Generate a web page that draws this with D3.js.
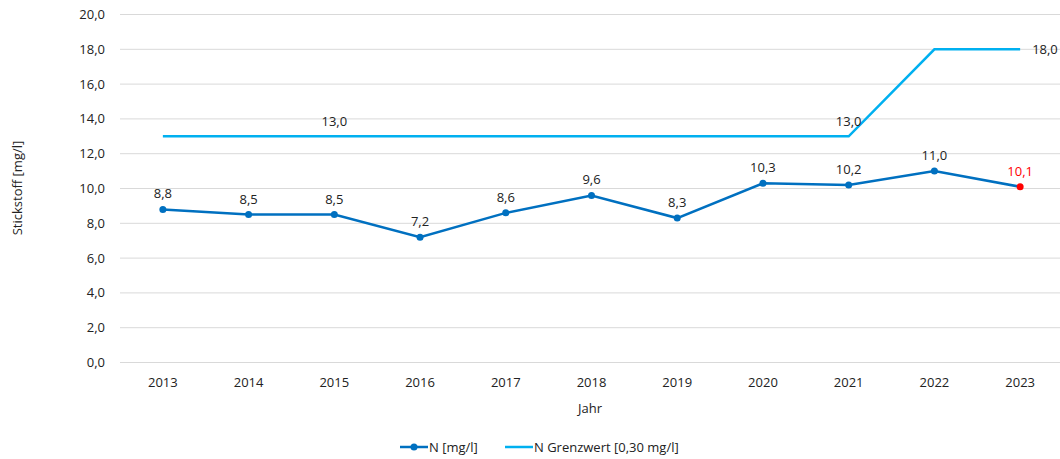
<!DOCTYPE html>
<html>
<head>
<meta charset="utf-8">
<script src="https://cdn.jsdelivr.net/npm/d3@7"></script>
<style>
  body { margin: 0; background: #fff; }
  svg text { font-family: "Open Sans", "Liberation Sans", sans-serif; fill: #222; }
</style>
</head>
<body>
<svg id="chart"></svg>
<script>
var width = 1060, height = 459;

// data
var years = ["2013","2014","2015","2016","2017","2018","2019","2020","2021","2022","2023"];
var nValues = [8.8, 8.5, 8.5, 7.2, 8.6, 9.6, 8.3, 10.3, 10.2, 11.0, 10.1];
var limitValues = [13, 13, 13, 13, 13, 13, 13, 13, 13, 18, 18];
var limitLabelYears = ["2015", "2021", "2023"];
var yTicks = [0, 2, 4, 6, 8, 10, 12, 14, 16, 18, 20];

var fmt = function(v){ return d3.format(".1f")(v).replace(".", ","); };

const svg = d3.select("svg#chart")
  .attr("width", width)
  .attr("height", height);

var x = d3.scaleBand().domain(years).range([120, 1063]);
var y = d3.scaleLinear().domain([0, 20]).range([362.5, 14.5]);
var cx = function(d){ return x(d) + x.bandwidth() / 2; };

// grid
svg.append("g").selectAll("line")
  .data(yTicks)
  .enter().append("line")
    .attr("x1", 120).attr("x2", 1063)
    .attr("y1", d => y(d)).attr("y2", d => y(d))
    .style("stroke", "#d9d9d9")
    .style("stroke-width", 1);

// y tick labels
svg.append("g").selectAll("text")
  .data(yTicks)
  .enter().append("text")
    .attr("x", 105)
    .attr("y", d => y(d))
    .attr("dy", "0.35em")
    .attr("text-anchor", "end")
    .style("font-size", "13px")
    .text(d => fmt(d));

// x tick labels
svg.append("g").selectAll("text")
  .data(years)
  .enter().append("text")
    .attr("x", d => cx(d))
    .attr("y", 387)
    .attr("text-anchor", "middle")
    .style("font-size", "13px")
    .text(d => d);

// axis titles
svg.append("text")
  .attr("transform", "translate(22,188) rotate(-90)")
  .attr("text-anchor", "middle")
  .style("font-size", "13px")
  .text("Stickstoff [mg/l]");

svg.append("text")
  .attr("x", 590).attr("y", 413)
  .attr("text-anchor", "middle")
  .style("font-size", "13px")
  .text("Jahr");

// Grenzwert line
var line = d3.line().x(d => cx(d[0])).y(d => y(d[1]));
var limitPts = years.map((yr, i) => [yr, limitValues[i]]);
svg.append("path")
  .attr("d", line(limitPts))
  .style("fill", "none")
  .style("stroke", "#00B0F0")
  .style("stroke-width", 2.5);

svg.append("g").selectAll("text")
  .data(limitPts.filter(d => limitLabelYears.indexOf(d[0]) >= 0))
  .enter().append("text")
    .attr("x", d => d[0] === "2023" ? cx(d[0]) + 12 : cx(d[0]))
    .attr("y", d => d[0] === "2023" ? y(d[1]) : y(d[1]) - 10)
    .attr("dy", d => d[0] === "2023" ? "0.35em" : 0)
    .attr("text-anchor", d => d[0] === "2023" ? "start" : "middle")
    .style("font-size", "13px")
    .text(d => fmt(d[1]));

// N line
var nPts = years.map((yr, i) => [yr, nValues[i]]);
svg.append("path")
  .attr("d", line(nPts))
  .style("fill", "none")
  .style("stroke", "#0070C0")
  .style("stroke-width", 2.5);

svg.append("g").selectAll("circle")
  .data(nPts)
  .enter().append("circle")
    .attr("cx", d => cx(d[0]))
    .attr("cy", d => y(d[1]))
    .attr("r", 3.5)
    .style("fill", (d, i) => i === nPts.length - 1 ? "#FF0000" : "#0070C0");

svg.append("g").selectAll("text")
  .data(nPts)
  .enter().append("text")
    .attr("x", d => cx(d[0]))
    .attr("y", d => y(d[1]) - 11)
    .attr("text-anchor", "middle")
    .style("font-size", "13px")
    .style("fill", (d, i) => i === nPts.length - 1 ? "#FF0000" : "#222")
    .text(d => fmt(d[1]));

// legend
const legend = svg.append("g").attr("transform", "translate(0,447)");
legend.append("line")
  .attr("x1", 400).attr("x2", 428).attr("y1", 0).attr("y2", 0)
  .style("stroke", "#0070C0").style("stroke-width", 2.5);
legend.append("circle")
  .attr("cx", 414).attr("cy", 0).attr("r", 3.5)
  .style("fill", "#0070C0");
legend.append("text")
  .attr("x", 429).attr("y", 0).attr("dy", "0.35em")
  .style("font-size", "13px")
  .text("N [mg/l]");
legend.append("line")
  .attr("x1", 505).attr("x2", 533).attr("y1", 0).attr("y2", 0)
  .style("stroke", "#00B0F0").style("stroke-width", 2.5);
legend.append("text")
  .attr("x", 534).attr("y", 0).attr("dy", "0.35em")
  .style("font-size", "13px")
  .text("N Grenzwert [0,30 mg/l]");
</script>
</body>
</html>
